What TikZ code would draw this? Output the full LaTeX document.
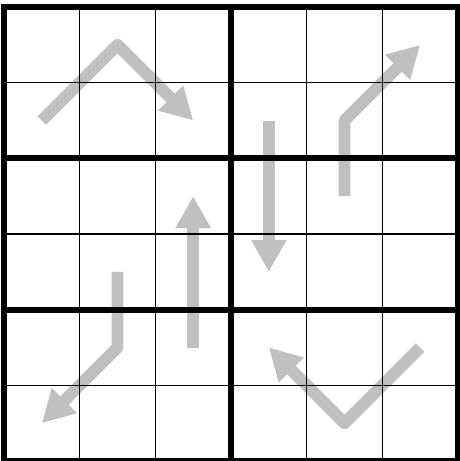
\documentclass[tikz,border=0pt]{standalone}
\usepackage{tikz}
\usetikzlibrary{arrows.meta}
\definecolor{movegray}{HTML}{C0C0C0}

\begin{document}
\begin{tikzpicture}[
  x=2cm,y=-2cm,
  thinline/.style={line width=0.8pt,draw=black},
  thickline/.style={line width=4.5pt,draw=black},
  move/.style={line width=9pt,draw=movegray,line join=round,
               -{Triangle[length=24pt,width=25pt]}}
]
  \useasboundingbox (-0.053,-0.093) rectangle (6.026,6.0);

  % moves
  \draw[move] (0.5,1.5) -- (1.5,0.5) -- (2.5,1.5);
  \draw[move] (4.5,2.5) -- (4.5,1.5) -- (5.5,0.5);
  \draw[move] (3.5,1.5) -- (3.5,3.5);
  \draw[move] (2.5,4.5) -- (2.5,2.5);
  \draw[move] (1.5,3.5) -- (1.5,4.5) -- (0.5,5.5);
  \draw[move] (5.5,4.5) -- (4.5,5.5) -- (3.5,4.5);

  % grid
  \foreach \i in {1,2,4,5} \draw[thinline] (\i,0) -- (\i,6);
  \foreach \j in {1,3,5} \draw[thinline] (0,\j) -- (6,\j);
  \foreach \i in {3} \draw[thickline] (\i,0) -- (\i,6);
  \foreach \j in {2,4} \draw[thickline] (0,\j) -- (6,\j);
  \draw[thickline] (0,0) rectangle (6,6);
\end{tikzpicture}
\end{document}
